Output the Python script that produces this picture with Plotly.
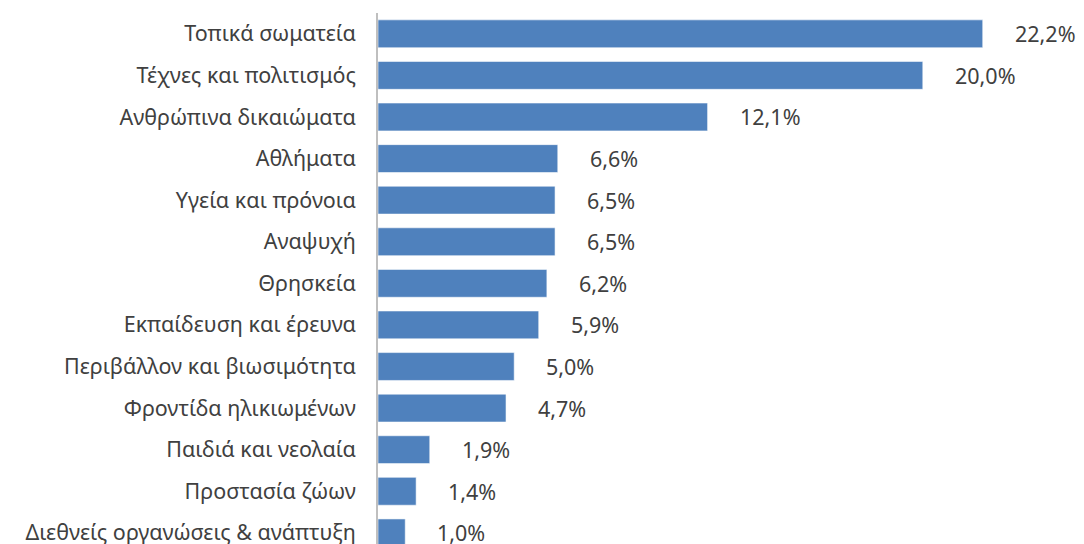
import plotly.graph_objects as go

categories = [
    "Τοπικά σωματεία",
    "Τέχνες και πολιτισμός",
    "Ανθρώπινα δικαιώματα",
    "Αθλήματα",
    "Υγεία και πρόνοια",
    "Αναψυχή",
    "Θρησκεία",
    "Εκπαίδευση και έρευνα",
    "Περιβάλλον και βιωσιμότητα",
    "Φροντίδα ηλικιωμένων",
    "Παιδιά και νεολαία",
    "Προστασία ζώων",
    "Διεθνείς οργανώσεις & ανάπτυξη",
]
values = [22.2, 20.0, 12.1, 6.6, 6.5, 6.5, 6.2, 5.9, 5.0, 4.7, 1.9, 1.4, 1.0]
labels = [f"{v:.1f}%".replace(".", ",") for v in values]

FONT = "Noto Sans"
TXT = "#404040"

fig = go.Figure()
fig.add_trace(go.Bar(
    x=values, y=categories, orientation="h",
    marker=dict(color="#4F81BD", line=dict(color="rgba(255,255,255,0.55)", width=1)),
    hoverinfo="skip",
))

for c, v, t in zip(categories, values, labels):
    fig.add_annotation(x=v, y=c, text=t, showarrow=False, xanchor="left",
                       xshift=30, font=dict(family=FONT, size=21.5, color=TXT))

fig.update_layout(
    width=1084, height=544,
    margin=dict(l=370, r=33, t=5, b=0, autoexpand=False),
    paper_bgcolor="white", plot_bgcolor="white",
    bargap=0.33,
    showlegend=False,
    font=dict(family=FONT, size=21.5, color=TXT),
)
fig.update_xaxes(range=[0, 25], visible=False, showgrid=False, zeroline=False)
fig.update_yaxes(
    type="category", categoryorder="array", categoryarray=categories,
    range=[12.46, -0.5], showgrid=False, zeroline=False, automargin=False,
    showline=True, linecolor="#BFBFBF", linewidth=1.5,
    ticks="", ticklabelstandoff=16,
    tickfont=dict(family=FONT, size=21.5, color=TXT),
)

fig.write_html("out.html")
